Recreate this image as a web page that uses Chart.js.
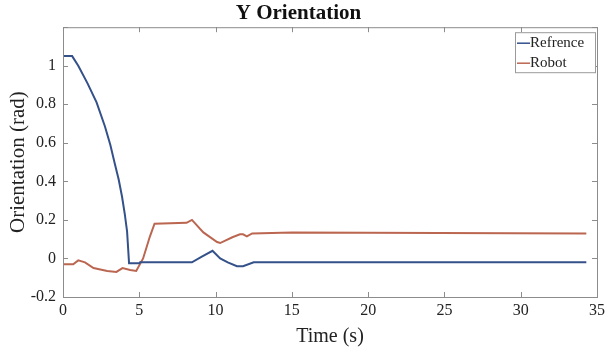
<!DOCTYPE html>
<html>
<head>
<meta charset="utf-8">
<script src="https://cdn.jsdelivr.net/npm/chart.js@4.4.0/dist/chart.umd.min.js"></script>
<style>
  html, body { margin: 0; padding: 0; background: #fff; }
  #wrap { width: 611px; height: 352px; }
</style>
</head>
<body>
<div id="wrap"><canvas id="chart" width="611" height="352"></canvas></div>
<script>
// reference trajectory (time in s, orientation in rad)
var refTime   = [0.05, 0.6, 1.0, 1.6, 2.2, 2.75, 3.1, 3.4, 3.65, 3.87, 4.05, 4.2, 4.33, 5.0, 5.05, 8.45, 9.1, 9.8, 10.3, 10.8, 11.4, 11.8, 12.5, 34.3];
var refValues = [1.05, 1.05, 1.0, 0.91, 0.81, 0.685, 0.59, 0.49, 0.41, 0.32, 0.23, 0.14, -0.025, -0.025, -0.02, -0.02, 0.01, 0.04, 0.0, -0.02, -0.04, -0.04, -0.02, -0.02];

// measured robot orientation
var robotTime   = [0.05, 0.67, 1.0, 1.44, 2.0, 2.9, 3.5, 3.9, 4.4, 4.8, 5.25, 5.7, 6.0, 8.1, 8.45, 9.2, 10.1, 10.3, 11.1, 11.6, 11.8, 12.05, 12.4, 15, 34.3];
var robotValues = [-0.03, -0.03, -0.01, -0.02, -0.05, -0.065, -0.07, -0.05, -0.06, -0.065, 0, 0.115, 0.18, 0.185, 0.2, 0.135, 0.085, 0.08, 0.11, 0.125, 0.125, 0.115, 0.13, 0.135, 0.13];

var seriesNames = ["Refrence", "Robot"];
var xTicks = [0, 5, 10, 15, 20, 25, 30, 35];
var yTicks = [-0.2, 0, 0.2, 0.4, 0.6, 0.8, 1, 1.2];

function toPoints(xs, ys) {
    var pts = [];
    for (var i = 0; i < xs.length; i++) pts.push({x: xs[i], y: ys[i]});
    return pts;
}

var serif = "'Liberation Serif', 'Times New Roman', serif";
var boxColor = "#8c8c8c";

// box around the axes, inward tick marks on all sides, and the legend box
var boxPlugin = {
    id: "boxPlugin",
    afterDraw: function (chart) {
        var ctx = chart.ctx;
        var a = chart.chartArea;
        var xs = chart.scales.x, ys = chart.scales.y;
        ctx.save();
        ctx.strokeStyle = boxColor;
        ctx.lineWidth = 1;
        ctx.strokeRect(a.left + 0.5, a.top + 0.5, a.right - a.left, a.bottom - a.top);
        ctx.beginPath();
        xTicks.forEach(function (t) {
            var px = Math.round(xs.getPixelForValue(t)) + 0.5;
            ctx.moveTo(px, a.bottom); ctx.lineTo(px, a.bottom - 5);
            ctx.moveTo(px, a.top); ctx.lineTo(px, a.top + 5);
        });
        yTicks.forEach(function (t) {
            var py = Math.round(ys.getPixelForValue(t)) + 0.5;
            ctx.moveTo(a.left, py); ctx.lineTo(a.left + 5, py);
            ctx.moveTo(a.right, py); ctx.lineTo(a.right - 5, py);
        });
        ctx.stroke();

        // legend
        var lw = 80, lh = 40;
        var lx = a.right - lw - 2, ly = a.top + 5;
        ctx.fillStyle = "#fff";
        ctx.fillRect(lx, ly, lw, lh);
        ctx.strokeStyle = "#9a9a9a";
        ctx.strokeRect(lx + 0.5, ly + 0.5, lw, lh);
        ctx.font = "15px " + serif;
        ctx.textBaseline = "middle";
        ctx.textAlign = "left";
        chart.data.datasets.forEach(function (ds, i) {
            var cy = ly + 11 + i * 20;
            ctx.strokeStyle = ds.borderColor;
            ctx.lineWidth = 1.5;
            ctx.beginPath();
            ctx.moveTo(lx + 2, cy); ctx.lineTo(lx + 15, cy);
            ctx.stroke();
            ctx.fillStyle = "#222";
            ctx.fillText(ds.label, lx + 15, cy);
        });
        ctx.restore();
    }
};

var ctx = document.getElementById("chart").getContext("2d");

new Chart(ctx, {
    type: "line",
    data: {
        datasets: [
            {
                label: seriesNames[0],
                data: toPoints(refTime, refValues),
                borderColor: "#34518a",
                borderWidth: 2,
                pointRadius: 0,
                tension: 0
            },
            {
                label: seriesNames[1],
                data: toPoints(robotTime, robotValues),
                borderColor: "#bb6650",
                borderWidth: 2,
                pointRadius: 0,
                tension: 0
            }
        ]
    },
    options: {
        responsive: false,
        animation: false,
        layout: { padding: { left: 0, right: 14, top: 0, bottom: 0 } },
        plugins: {
            legend: { display: false },
            tooltip: { enabled: false },
            title: {
                display: true,
                text: "Y Orientation",
                color: "#111",
                font: { family: serif, size: 21, weight: "bold", lineHeight: 1.2 },
                padding: { top: 1, bottom: 1 }
            }
        },
        scales: {
            x: {
                type: "linear",
                min: 0,
                max: 35,
                afterBuildTicks: function (axis) {
                    axis.ticks = xTicks.map(function (v) { return {value: v}; });
                },
                afterFit: function (axis) { axis.height = 55; },
                grid: { display: false, drawTicks: false, tickLength: 0 },
                border: { display: false },
                ticks: {
                    color: "#222",
                    padding: 4,
                    maxRotation: 0,
                    font: { family: serif, size: 16 }
                },
                title: {
                    display: true,
                    text: "Time (s)",
                    color: "#222",
                    font: { family: serif, size: 20 },
                    padding: { top: 0, bottom: 3 }
                }
            },
            y: {
                min: -0.2,
                max: 1.2,
                afterBuildTicks: function (axis) {
                    axis.ticks = yTicks.map(function (v) { return {value: v}; });
                },
                afterFit: function (axis) { axis.width = 63; },
                grid: { display: false, drawTicks: false, tickLength: 0 },
                border: { display: false },
                ticks: {
                    color: "#222",
                    padding: 7,
                    font: { family: serif, size: 16 },
                    callback: function (v) {
                        if (v > 1.1) return "";
                        return String(Number(v.toFixed(1)));
                    }
                },
                title: {
                    display: true,
                    text: "Orientation (rad)",
                    color: "#222",
                    font: { family: serif, size: 21 },
                    padding: { top: 6, bottom: 0 }
                }
            }
        }
    },
    plugins: [boxPlugin]
});
</script>
</body>
</html>
